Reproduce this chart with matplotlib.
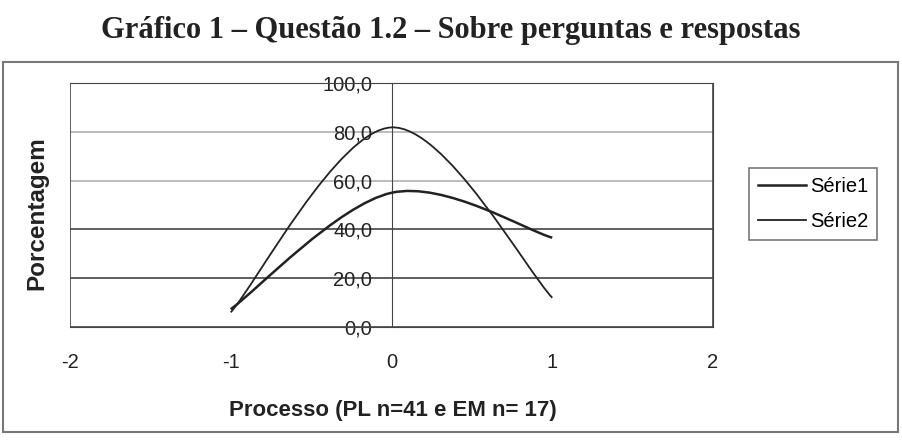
import matplotlib
matplotlib.use("Agg")
import matplotlib.pyplot as plt
from matplotlib.path import Path
from matplotlib.patches import PathPatch, Rectangle
from matplotlib.lines import Line2D

# data
processo = [-1, 0, 1]
serie1 = [7.3, 55.0, 36.6]
serie2 = [6.0, 81.8, 12.0]
series_names = ["Série1", "Série2"]
y_ticks = [0, 20, 40, 60, 80, 100]
x_ticks = [-2, -1, 0, 1, 2]

title = "Gráfico 1 – Questão 1.2 – Sobre perguntas e respostas"
xlabel = "Processo (PL n=41 e EM n= 17)"
ylabel = "Porcentagem"


def smooth_path(xs, ys):
    # Excel-like smoothed line: cubic bezier through the points
    pts = list(zip(xs, ys))
    n = len(pts)
    verts = [pts[0]]
    codes = [Path.MOVETO]
    for i in range(n - 1):
        p0 = pts[i - 1] if i > 0 else pts[i]
        p1, p2 = pts[i], pts[i + 1]
        p3 = pts[i + 2] if i + 2 < n else pts[i + 1]
        c1 = (p1[0] + (p2[0] - p0[0]) / 6, p1[1] + (p2[1] - p0[1]) / 6)
        c2 = (p2[0] - (p3[0] - p1[0]) / 6, p2[1] - (p3[1] - p1[1]) / 6)
        verts += [c1, c2, p2]
        codes += [Path.CURVE4] * 3
    return Path(verts, codes)


plt.rcParams['font.family'] = ['Liberation Sans', 'DejaVu Sans']

fig = plt.figure(figsize=(9.02, 4.40), dpi=100)

fig.text(0.5, 0.93, title, ha='center', va='center', fontsize=22,
         fontweight='bold', family=['Liberation Serif', 'DejaVu Serif'],
         color='#222222')

# outer chart frame
fig.patches.append(Rectangle((3 / 902, 1 - 432 / 440), 895 / 902, 370 / 440,
                             transform=fig.transFigure, fill=False,
                             edgecolor='#777777', linewidth=1.5))

ax = fig.add_axes([70 / 902, 1 - 327 / 440, 643 / 902, 244 / 440])
ax.set_xlim(-2, 2)
ax.set_ylim(0, 100)

for y in y_ticks[1:-1]:
    c = '#aaaaaa' if y >= 60 else '#333333'
    ax.axhline(y, color=c, linewidth=1.1, zorder=1)

ax.spines['left'].set_position(('data', 0))
for s in ax.spines.values():
    s.set_color('#444444')
ax.add_patch(Rectangle((0, 0), 1, 1, transform=ax.transAxes, fill=False,
                       edgecolor='#444444', linewidth=1.2, zorder=2))

ax.set_yticks(y_ticks)
ax.set_yticklabels([f"{v:.1f}".replace('.', ',') for v in y_ticks])
ax.set_xticks(x_ticks)
ax.set_xticklabels([str(v) for v in x_ticks])
ax.tick_params(axis='both', length=0, labelsize=14.5, colors='#222222')
ax.tick_params(axis='y', pad=14)
ax.tick_params(axis='x', pad=19)
for lab in ax.get_yticklabels():
    lab.set_zorder(4)

widths = [1.8, 1.3]
for ys, w in zip([serie1, serie2], widths):
    ax.add_patch(PathPatch(smooth_path(processo, ys), fill=False,
                           edgecolor='#222222', linewidth=w, zorder=3))

fig.text(393 / 902, 1 - 410 / 440, xlabel, ha='center', va='center',
         fontsize=16, fontweight='bold', color='#222222')
fig.text(37 / 902, 1 - 213 / 440, ylabel, rotation=90, ha='center',
         va='center', fontsize=17.5, fontweight='bold', color='#222222')

handles = [Line2D([], [], color='#222222', linewidth=w) for w in widths]
leg = fig.legend(handles, series_names, loc='center',
                 bbox_to_anchor=(813 / 902, 1 - 204 / 440), fontsize=14.5,
                 frameon=True, fancybox=False, handlelength=2.4,
                 handletextpad=0.2, borderpad=0.45, labelspacing=0.75)
leg.get_frame().set_edgecolor('#555555')
leg.get_frame().set_linewidth(1.2)

fig.savefig("out.png", dpi=100)
